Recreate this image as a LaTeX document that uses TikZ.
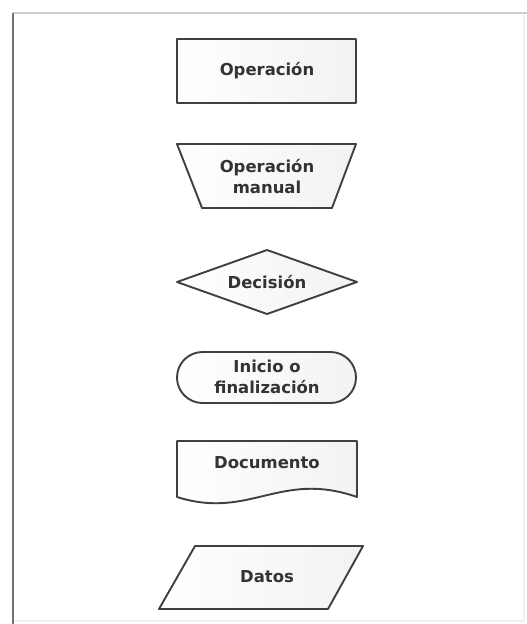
\documentclass[tikz,border=0pt]{standalone}
\usepackage{fontspec}
\setmainfont{DejaVu Sans}
\begin{document}
\begin{tikzpicture}[x=1bp,y=-1bp,
  shapeline/.style={draw=black!75, line width=1.9bp, line join=round, left color=white, right color=black!5},
  lbl/.style={font=\bfseries\fontsize{16.5}{21}\selectfont, text=black!80, align=center, inner sep=0pt}]
\useasboundingbox (0,0) rectangle (527,624);
\fill[white] (0,0) rectangle (527,624);
% frame
\draw[black!6, line width=1.5bp] (524,13) -- (524,621) -- (13,621);
\draw[black!20, line width=2bp] (13,13) -- (527,13);
\draw[black!55, line width=2.5bp] (13,13) -- (13,624);
% shapes
\path[shapeline] (177,39) rectangle (356,103);
\path[shapeline] (177,144) -- (356,144) -- (332,208) -- (202,208) -- cycle;
\path[shapeline] (267,250) -- (357,282) -- (267,314) -- (177,282) -- cycle;
\path[shapeline, rounded corners=25.5bp] (177,352) rectangle (356,403);
\path[shapeline] (177,497) -- (177,441) -- (357,441) -- (357,497)
  .. controls (280,470) and (250,520) .. (177,497) -- cycle;
\path[shapeline] (195,546) -- (363,546) -- (328,609) -- (159,609) -- cycle;
% labels
\node[lbl] (op) at (267,71) {Operación};
\node[lbl] (man) at (267,177) {Operación\\manual};
\node[lbl] (dec) at (267,282) {Decisión};
\node[lbl] (ini) at (267,377) {Inicio o\\finalización};
\node[lbl] (doc) at (267,463) {Documento};
\node[lbl] (dat) at (267,577) {Datos};
\end{tikzpicture}
\end{document}
